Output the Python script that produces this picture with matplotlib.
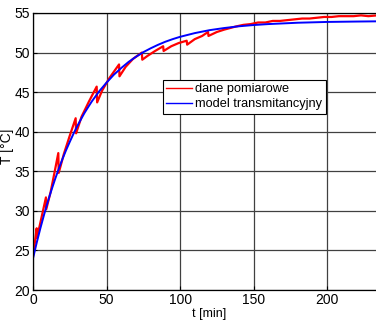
import matplotlib
matplotlib.use("Agg")
import matplotlib.pyplot as plt

plt.rcParams["font.family"] = ["Liberation Sans", "DejaVu Sans"]

# measured data (sawtooth from sensor steps)
t_meas = [0, 1, 2.5, 2.7, 5, 8.8, 9.0, 12, 15, 17.2, 17.5, 21, 25, 29.0, 29.3,
          33, 38, 43.3, 43.6, 47, 52, 58.5, 58.8, 63, 68, 74.0, 74.3, 78, 83,
          88.5, 88.8, 94, 99, 104.5, 104.8, 110, 115, 119.0, 119.3, 125, 130,
          134, 138, 143, 148, 153, 158, 163, 168, 173, 178, 183, 188, 193, 198,
          203, 208, 213, 218, 223, 228, 234, 240]
T_meas = [24.3, 25.6, 27.8, 26.6, 28.5, 31.7, 30.2, 32.4, 35.2, 37.3, 34.8, 37.2,
          39.5, 41.7, 39.8, 41.9, 43.8, 45.7, 43.7, 45.2, 46.8, 48.5, 47.0, 48.2,
          49.2, 50.0, 49.1, 49.6, 50.2, 50.8, 50.2, 50.8, 51.2, 51.5, 51.0, 51.7,
          52.1, 52.6, 52.1, 52.6, 52.9, 53.1, 53.3, 53.5, 53.6, 53.8, 53.8, 54.0,
          54.0, 54.1, 54.2, 54.3, 54.3, 54.4, 54.5, 54.5, 54.6, 54.6, 54.6, 54.7,
          54.6, 54.7, 54.7]

# transfer-function model response
t_model = [0, 2.5, 5, 7.5, 10, 12.5, 15, 17.5, 20, 22.5, 25, 27.5, 30, 32.5, 35,
           37.5, 40, 45, 50, 55, 60, 65, 70, 75, 80, 85, 90, 95, 100, 110, 120,
           130, 140, 150, 160, 180, 200, 220, 240]
T_model = [24.0, 25.96, 27.79, 29.5, 31.12, 32.6, 34.0, 35.31, 36.54, 37.67,
           38.72, 39.73, 40.68, 41.53, 42.37, 43.11, 43.83, 45.11, 46.2, 47.21,
           48.05, 48.82, 49.47, 50.05, 50.54, 50.98, 51.37, 51.7, 51.99, 52.46,
           52.83, 53.1, 53.32, 53.48, 53.6, 53.77, 53.87, 53.92, 53.96]

fig = plt.figure(figsize=(3.76, 3.22), dpi=100)
W, H = 376, 322
ax = fig.add_axes([33 / W, 1 - 290 / H, 353 / W, 277 / H])

ax.plot(t_meas, T_meas, color="red", linewidth=1.6, label="dane pomiarowe")
ax.plot(t_model, T_model, color="blue", linewidth=1.4, label="model transmitancyjny")

ax.set_xlim(0, 240)
ax.set_ylim(20, 55)
ax.set_xticks([0, 50, 100, 150, 200])
ax.set_yticks([20, 25, 30, 35, 40, 45, 50, 55])
ax.grid(True, color="#404040", linewidth=0.9)
ax.tick_params(direction="in", labelsize=10, length=3, pad=2)
for s in ax.spines.values():
    s.set_color("black")
    s.set_linewidth(0.9)

ax.set_xlabel("t [min]", fontsize=9, labelpad=1)
ax.set_ylabel("T [°C]", fontsize=10)
ax.yaxis.set_label_coords(-0.055, 0.52)

leg = ax.legend(loc="upper left", bbox_to_anchor=(0.368, 0.758), fontsize=9.2,
                fancybox=False, framealpha=1, edgecolor="black",
                handlelength=2.0, handletextpad=0.3, borderpad=0.25,
                labelspacing=0.25, borderaxespad=0)
leg.get_frame().set_linewidth(0.8)
for h in leg.get_lines():
    h.set_linewidth(1.0)

fig.savefig("out.png", dpi=100)
